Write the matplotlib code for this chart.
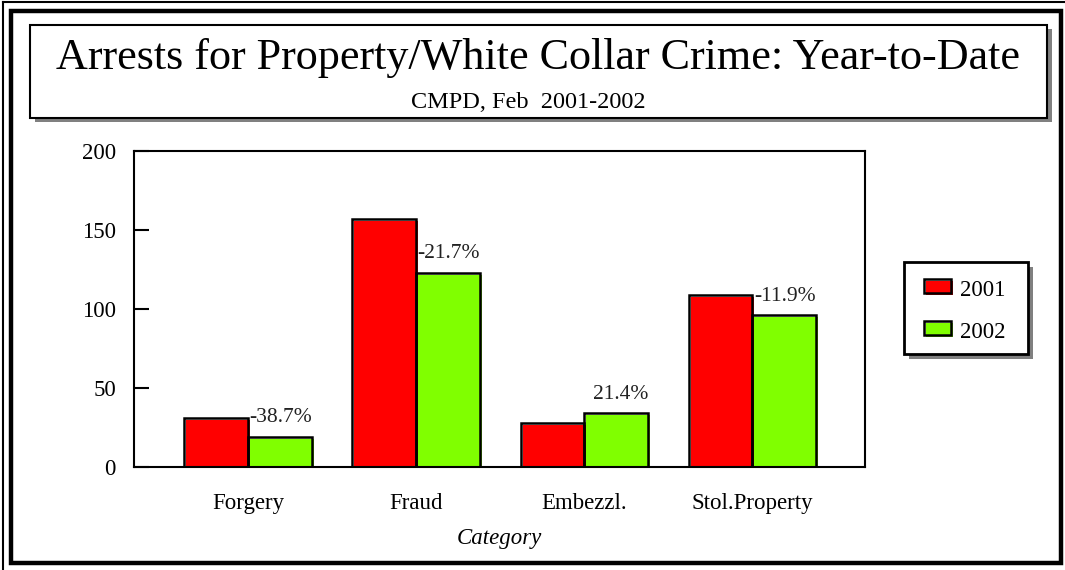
import matplotlib
matplotlib.use('Agg')
import matplotlib.pyplot as plt
import matplotlib.transforms as mtransforms
from matplotlib.patches import Rectangle
from matplotlib.lines import Line2D
import numpy as np

plt.rcParams['font.family'] = ['Liberation Serif', 'DejaVu Serif']

categories = ['Forgery', 'Fraud', 'Embezzl.', 'Stol.Property']
arrests_2001 = [31, 157, 28, 109]
arrests_2002 = [19, 123, 34, 96]
change_labels = ['-38.7%', '-21.7%', '21.4%', '-11.9%']
years = ['2001', '2002']
colors = ['#ff0000', '#80ff00']

fig = plt.figure(figsize=(10.65, 5.7), dpi=100)
W, H = 1065.0, 570.0

def fx(px):
    return px / W

def fy(py):
    return 1 - py / H

# outer frame
fig.add_artist(Rectangle((fx(11), fy(563)), fx(1050), (563 - 11) / H,
                         transform=fig.transFigure, fill=False, lw=3.2, ec='black'))
fig.add_artist(Line2D([fx(3), fx(3)], [fy(1.5), 0], transform=fig.transFigure, lw=1.5, color='black'))
fig.add_artist(Line2D([fx(3), 1], [fy(1.5), fy(1.5)], transform=fig.transFigure, lw=1.5, color='black'))

# title box with shadow
fig.add_artist(Rectangle((fx(35), fy(122)), fx(1017), 93 / H, transform=fig.transFigure,
                         fc='#808080', ec='none'))
fig.add_artist(Rectangle((fx(30), fy(118)), fx(1017), 93 / H, transform=fig.transFigure,
                         fc='white', ec='black', lw=1.5))
fig.text(fx(538), fy(58), 'Arrests for Property/White Collar Crime: Year-to-Date',
         ha='center', va='center', fontsize=31.8)
fig.text(fx(528), fy(103), 'CMPD, Feb  2001-2002', ha='center', va='center', fontsize=17.5)

ax = fig.add_axes([fx(134), fy(467), fx(865 - 134), (467 - 151) / H])

x = np.arange(len(categories))
w = 0.38
shift = mtransforms.ScaledTranslation(2 / 100, -2 / 100, fig.dpi_scale_trans)
for i, vals in enumerate([arrests_2001, arrests_2002]):
    pos = x + (i - 0.5) * w
    ax.bar(pos, vals, w, color=colors[i], edgecolor='none',
           transform=ax.transData + shift, zorder=2)
    ax.bar(pos, vals, w, fill=False, edgecolor='black', lw=1.8, zorder=3)

for i, lab in enumerate(change_labels):
    ax.text(x[i] + w, arrests_2002[i] + 6, lab, ha='right', va='bottom',
            fontsize=15.5, color='#222222', zorder=4)

ax.set_xlim(-0.68, 3.67)
ax.set_ylim(0, 200)
ax.set_yticks([0, 50, 100, 150, 200])
ax.set_xticks(x)
ax.set_xticklabels(categories)
ax.tick_params(axis='y', direction='in', length=11, width=1.5, pad=13, labelsize=16.5)
ax.tick_params(axis='x', length=0, pad=19, labelsize=16.5)
ax.set_xlabel('Category', fontstyle='italic', fontsize=16.5, labelpad=10)
for s in ax.spines.values():
    s.set_linewidth(1.5)

# legend box with shadow
fig.add_artist(Rectangle((fx(909), fy(359)), fx(124), 92 / H, transform=fig.transFigure,
                         fc='#808080', ec='none'))
fig.add_artist(Rectangle((fx(904), fy(354)), fx(124), 92 / H, transform=fig.transFigure,
                         fc='white', ec='black', lw=2))
for i, yr in enumerate(years):
    cy = 288 + i * 42
    fig.add_artist(Rectangle((fx(926), fy(cy + 7)), fx(27), 14 / H, transform=fig.transFigure,
                             fc=colors[i], ec='none'))
    fig.add_artist(Rectangle((fx(924), fy(cy + 5)), fx(27), 14 / H, transform=fig.transFigure,
                             fill=False, ec='black', lw=1.8))
    fig.text(fx(960), fy(cy + 3), yr, ha='left', va='center', fontsize=16.5)

fig.savefig('out.png', dpi=100)
